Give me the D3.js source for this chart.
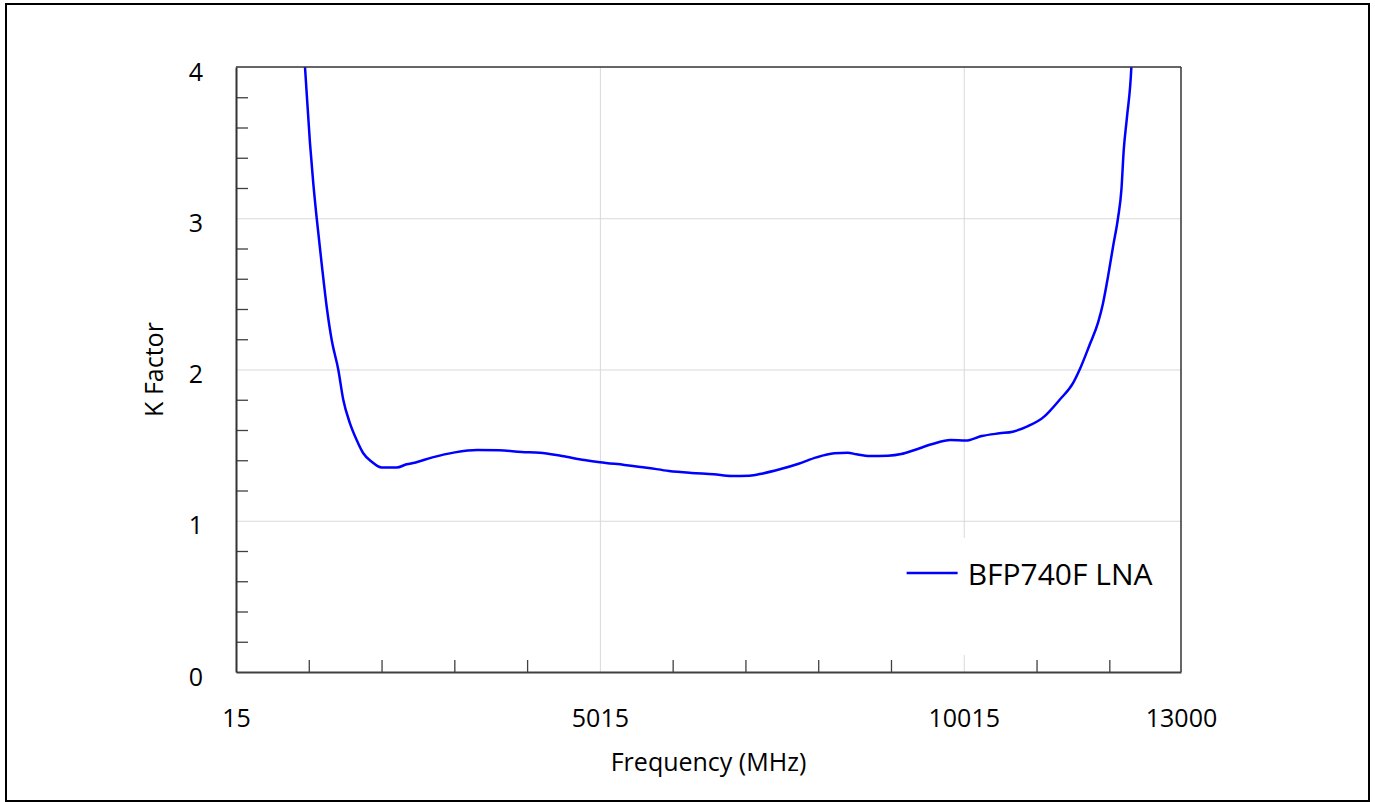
<!DOCTYPE html>
<html>
<head>
<meta charset="utf-8">
<script src="https://cdn.jsdelivr.net/npm/d3@7"></script>
<style>
  body { margin: 0; background: #fff; }
  text { font-family: "Open Sans", "Noto Sans", sans-serif; fill: #000; }
</style>
</head>
<body>
<div id="chart"></div>
<script>
// Datos (frecuencia en MHz, factor K)
const freqMHz = [867, 963, 1031, 1077, 1124, 1192, 1261, 1330, 1420, 1489, 1581, 1673, 1764, 1879, 2016,
  2222, 2360, 2470, 2714, 3022, 3328, 3635, 3942, 4187, 4493, 4801, 5015, 5353, 5659, 5965, 6273,
  6580, 6825, 7070, 7254, 7500, 7746, 7990, 8236, 8420, 8542, 8726, 8972, 9156, 9340, 9586, 9831,
  10045, 10261, 10505, 10689, 10905, 11119, 11196, 11333, 11516, 11608, 11746, 11860, 11928,
  11997, 12066, 12134, 12181, 12213, 12258, 12318, 12350];
const kFactor = [4.6, 4.0, 3.5, 3.23, 3.0, 2.7, 2.415, 2.195, 2.0, 1.8, 1.644, 1.534, 1.446, 1.39, 1.352,
  1.352, 1.373, 1.384, 1.419, 1.452, 1.468, 1.466, 1.455, 1.45, 1.428, 1.402, 1.387, 1.369, 1.351, 1.329, 1.316,
  1.307, 1.296, 1.298, 1.313, 1.342, 1.377, 1.419, 1.446, 1.45, 1.439, 1.428, 1.43, 1.441, 1.468, 1.507, 1.534,
  1.53, 1.56, 1.578, 1.589, 1.627, 1.688, 1.725, 1.8, 1.91, 2.0, 2.165, 2.31, 2.437,
  2.614, 2.812, 3.0, 3.187, 3.45, 3.67, 4.0, 4.4];

const seriesName = "BFP740F LNA";
const xTickLabels = [15, 5015, 10015, 13000];
const xGridTicks = [5015, 10015];
const xMinorTicks = [1015, 2015, 3015, 4015, 6015, 7015, 8015, 9015, 11015, 12015];
const yTickLabels = [0, 1, 2, 3, 4];
const yGridTicks = [1, 2, 3];
const yMinorTicks = [0.2, 0.4, 0.6, 0.8, 1.2, 1.4, 1.6, 1.8, 2.2, 2.4, 2.6, 2.8, 3.2, 3.4, 3.6, 3.8];

const W = 1375, H = 802;
const margin = { top: 67, right: 194, bottom: 130, left: 236 };
const width = W - margin.left - margin.right;
const height = H - margin.top - margin.bottom;

const svg = d3.select("#chart").append("svg")
    .attr("width", W)
    .attr("height", H);

// Marco exterior
svg.append("rect")
    .attr("x", 6).attr("y", 4)
    .attr("width", 1363).attr("height", 797)
    .attr("fill", "none")
    .attr("stroke", "#000")
    .attr("stroke-width", 2);

const g = svg.append("g").attr("transform", `translate(${margin.left},${margin.top})`);

const x = d3.scaleLinear().domain([15, 13000]).range([0, width]);
const y = d3.scaleLinear().domain([0, 4]).range([height, 0]);

// Rejilla
g.append("g")
    .call(d3.axisBottom(x).tickValues(xGridTicks).tickSize(height).tickFormat(""))
    .call(a => a.select(".domain").remove())
    .selectAll("line").attr("stroke", "#d9d9d9");
g.append("g")
    .call(d3.axisLeft(y).tickValues(yGridTicks).tickSize(-width).tickFormat(""))
    .call(a => a.select(".domain").remove())
    .selectAll("line").attr("stroke", "#d9d9d9");

// Curva
g.append("clipPath").attr("id", "clip")
    .append("rect").attr("width", width).attr("height", height);

const data = freqMHz.map((f, i) => ({ f: f, k: kFactor[i] }));
const line = d3.line()
    .x(d => x(d.f))
    .y(d => y(d.k))
    .curve(d3.curveMonotoneX);

g.append("path")
    .datum(data)
    .attr("clip-path", "url(#clip)")
    .attr("d", line)
    .attr("fill", "none")
    .attr("stroke", "#0000ff")
    .attr("stroke-width", 2.5);

// Leyenda (fondo blanco tapa la rejilla vertical)
const legend = g.append("g").attr("transform", `translate(${x(9230)},${y(0.655)})`);
legend.append("rect")
    .attr("x", -25).attr("y", -35)
    .attr("width", 296).attr("height", 117)
    .attr("fill", "#fff");
legend.append("line")
    .attr("x1", 0).attr("x2", 51).attr("y1", 0).attr("y2", 0)
    .attr("stroke", "#0000ff").attr("stroke-width", 2.5);
legend.append("text")
    .attr("x", 61).attr("y", 2)
    .attr("dy", "0.35em")
    .style("font-size", "30px")
    .text(seriesName);

// Borde superior y derecho
g.append("line").attr("x1", 0).attr("x2", width).attr("y1", 0).attr("y2", 0)
    .attr("stroke", "#333").attr("stroke-width", 1.5);
g.append("line").attr("x1", width).attr("x2", width).attr("y1", 0).attr("y2", height)
    .attr("stroke", "#333").attr("stroke-width", 1.5);

// Ticks menores
g.append("g")
    .attr("transform", `translate(0,${height})`)
    .call(d3.axisBottom(x).tickValues(xMinorTicks).tickSize(-12).tickFormat(""))
    .call(a => a.select(".domain").remove())
    .selectAll("line").attr("stroke", "#404040").attr("stroke-width", 1.3);
g.append("g")
    .call(d3.axisLeft(y).tickValues(yMinorTicks).tickSize(-12).tickFormat(""))
    .call(a => a.select(".domain").remove())
    .selectAll("line").attr("stroke", "#404040").attr("stroke-width", 1.3);

// Ejes
const xAxis = g.append("g")
    .attr("transform", `translate(0,${height})`)
    .call(d3.axisBottom(x).tickValues(xTickLabels).tickSize(0).tickPadding(37).tickFormat(d3.format("d")));
xAxis.select(".domain").attr("stroke", "#404040").attr("stroke-width", 2);
xAxis.selectAll("text").style("font-size", "25px").attr("fill", "#000");

const yAxis = g.append("g")
    .call(d3.axisLeft(y).tickValues(yTickLabels).tickSize(0).tickPadding(33).tickFormat(d3.format("d")));
yAxis.select(".domain").attr("stroke", "#333").attr("stroke-width", 2);
yAxis.selectAll("text").style("font-size", "25px").attr("fill", "#000").attr("dy", "0.52em");

// Etiquetas de ejes
g.append("text")
    .attr("x", width / 2)
    .attr("y", 704)
    .attr("text-anchor", "middle")
    .style("font-size", "25px")
    .text("Frequency (MHz)");

g.append("text")
    .attr("transform", `translate(${154 - margin.left},${height / 2}) rotate(-90)`)
    .attr("text-anchor", "middle")
    .attr("dy", "0.35em")
    .style("font-size", "25px")
    .text("K Factor");
</script>
</body>
</html>
